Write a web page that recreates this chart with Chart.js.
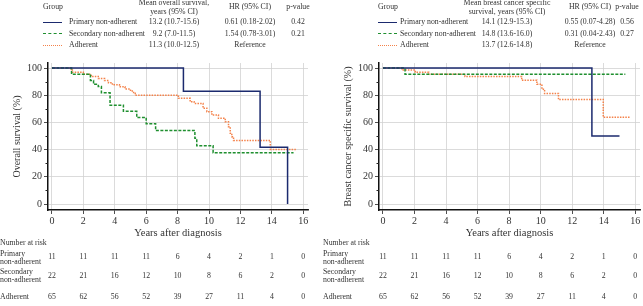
<!DOCTYPE html>
<html>
<head>
<meta charset="utf-8">
<script src="https://cdn.jsdelivr.net/npm/chart.js@4"></script>
<style>
body { margin: 0; background: #fff; font-family: "Liberation Serif", "DejaVu Serif", serif; color: #333; }
#page { position: relative; width: 643px; height: 306px; overflow: hidden; }
canvas { position: absolute; top: 0; }
.t { position: absolute; font-size: 7.8px; line-height: 9px; white-space: nowrap; }
.c { transform: translateX(-50%); text-align: center; }
.sw { position: absolute; width: 19px; height: 0; }
</style>
</head>
<body>
<div id="page">
  <canvas id="os" width="320" height="306" style="left:0"></canvas>
  <canvas id="bc" width="323" height="306" style="left:320px"></canvas>
</div>
<script>
const yearTicks = [0, 2, 4, 6, 8, 10, 12, 14, 16];
const groups = ['Primary non-adherent', 'Secondary non-adherent', 'Adherent'];
const riskLabels = [['Primary', 'non-adherent'], ['Secondary', 'non-adherent'], ['Adherent']];

// overall survival (left panel), step times in years and survival in %
const osPrimaryT = [0, 8.37, 13.25, 15.0];
const osPrimaryS = [100, 83.0, 41.7, 0];
const osSecondaryT = [0, 1.25, 2.45, 2.65, 2.95, 3.15, 3.7, 4.55, 5.4, 6.0, 6.6, 9.1, 9.22, 10.26, 15.38];
const osSecondaryS = [100, 95.5, 90.9, 88.0, 86.4, 81.8, 72.7, 68.2, 63.6, 59.1, 54.0, 48.3, 42.9, 37.7, 37.7];
const osAdherentT = [0, 1.2, 1.3, 2.0, 2.5, 2.95, 3.35, 3.6, 3.85, 4.3, 4.65, 5.0, 5.2, 5.3, 8.05, 8.8, 9.05, 9.62, 9.86, 10.18, 10.6, 11.03, 11.24, 11.35, 11.45, 11.56, 13.9, 15.6];
const osAdherentS = [100, 98.5, 96.9, 95.4, 93.8, 92.3, 90.8, 89.2, 87.7, 86.2, 84.6, 83.1, 81.5, 80.0, 77.7, 75.2, 74.0, 70.5, 67.9, 65.4, 63.0, 60.5, 56.8, 52.0, 49.5, 46.8, 40.0, 40.0];

// breast cancer specific survival (right panel)
const bcPrimaryT = [0, 13.25, 15.0];
const bcPrimaryS = [100, 50.0, 50.0];
const bcSecondaryT = [0, 1.4, 15.37];
const bcSecondaryS = [100, 95.5, 95.5];
const bcAdherentT = [0, 1.2, 2.05, 2.9, 5.2, 8.8, 9.76, 10.08, 10.25, 11.13, 13.97, 15.65];
const bcAdherentS = [100, 98.5, 96.9, 95.4, 93.8, 91.0, 88.1, 84.4, 81.3, 76.8, 63.8, 63.8];

const riskPrimary = [11, 11, 11, 11, 6, 4, 2, 1, 0];
const riskSecondary = [22, 21, 16, 12, 10, 8, 6, 2, 0];
const riskAdherent = [65, 62, 56, 52, 39, 27, 11, 4, 0];

const osMean = ['13.2 (10.7-15.6)', '9.2 (7.0-11.5)', '11.3 (10.0-12.5)'];
const osHR = ['0.61 (0.18-2.02)', '1.54 (0.78-3.01)', 'Reference'];
const osP = ['0.42', '0.21', ''];
const bcMean = ['14.1 (12.9-15.3)', '14.8 (13.6-16.0)', '13.7 (12.6-14.8)'];
const bcHR = ['0.55 (0.07-4.28)', '0.31 (0.04-2.43)', 'Reference'];
const bcP = ['0.56', '0.27', ''];

const colors = ['#1b2a6e', '#1f8f2f', '#f4824a'];
const swatchStyle = ['1.5px solid ' + colors[0], '1.5px dashed ' + colors[1], '1.5px dotted ' + colors[2]];
const FONT = '"Liberation Serif", "DejaVu Serif", serif';

const page = document.getElementById('page');
function text(str, x, y, centered) {
  const d = document.createElement('div');
  d.className = 't' + (centered ? ' c' : '');
  d.style.left = x + 'px';
  d.style.top = (y - 4.5) + 'px';
  d.textContent = str;
  page.appendChild(d);
}

// header table above each panel
function header(pos, meanHead, mean, hr, p) {
  text('Group', pos.group, 6);
  text(meanHead[0], pos.mean, 2, true);
  text(meanHead[1], pos.mean, 11, true);
  text('HR (95% CI)', pos.hr, 6, true);
  text('p-value', pos.p, 6, true);
  const rowY = [21.5, 33, 44.5];
  groups.forEach((g, i) => {
    const sw = document.createElement('div');
    sw.className = 'sw';
    sw.style.left = pos.group + 'px';
    sw.style.top = rowY[i] + 'px';
    sw.style.borderTop = swatchStyle[i];
    page.appendChild(sw);
    text(g, pos.label, rowY[i]);
    text(mean[i], pos.mean, rowY[i], true);
    text(hr[i], pos.hr, rowY[i], true);
    if (p[i]) text(p[i], pos.p, rowY[i], true);
  });
}
header({group: 43, label: 69, mean: 174, hr: 250, p: 298},
  ['Mean overall survival,', 'years (95% CI)'], osMean, osHR, osP);
header({group: 378, label: 400, mean: 507, hr: 590, p: 627},
  ['Mean breast cancer specific', 'survival, years (95% CI)'], bcMean, bcHR, bcP);

function pts(t, s) { return t.map((v, i) => ({x: v, y: s[i]})); }

const extras = {
  id: 'extras',
  afterDraw(chart, args, opts) {
    const ctx = chart.ctx;
    const xs = chart.scales.x, ys = chart.scales.y;
    const a = chart.chartArea;
    ctx.save();
    // minor ticks on the y axis
    ctx.strokeStyle = '#222';
    ctx.lineWidth = 1;
    for (let v = 10; v < 100; v += 20) {
      const y = Math.round(ys.getPixelForValue(v)) + 0.5;
      ctx.beginPath();
      ctx.moveTo(a.left - 2.5, y);
      ctx.lineTo(a.left, y);
      ctx.stroke();
    }
    // number at risk table
    ctx.fillStyle = '#333';
    ctx.font = '7.8px ' + FONT;
    ctx.textBaseline = 'middle';
    ctx.textAlign = 'left';
    ctx.fillText('Number at risk', opts.labelX, 243);
    const rows = [riskPrimary, riskSecondary, riskAdherent];
    const labelY = [[254, 262], [272, 280], [297]];
    const valueY = [257, 276, 297];
    riskLabels.forEach((lines, i) => {
      lines.forEach((l, j) => ctx.fillText(l, opts.labelX, labelY[i][j]));
    });
    ctx.textAlign = 'center';
    rows.forEach((r, i) => {
      r.forEach((n, k) => ctx.fillText(String(n), xs.getPixelForValue(yearTicks[k]), valueY[i]));
    });
    ctx.restore();
  }
};

function makeChart(id, series, yTitle, opt) {
  const dash = [[], [3, 1.5], [1.5, 1.2]];
  return new Chart(document.getElementById(id), {
    type: 'line',
    data: {
      datasets: series.map((s, i) => ({
        label: groups[i],
        data: pts(s[0], s[1]),
        borderColor: colors[i],
        borderDash: dash[i],
        borderWidth: 1.5,
        stepped: 'before',
        pointRadius: 0,
        fill: false
      }))
    },
    options: {
      responsive: false,
      animation: false,
      layout: { padding: { top: 63, right: opt.padRight, bottom: 66, left: 0 } },
      plugins: { legend: { display: false }, tooltip: { enabled: false }, extras: { labelX: opt.labelX } },
      scales: {
        x: {
          type: 'linear', min: -0.25, max: 16.3,
          ticks: { stepSize: 2, includeBounds: false, padding: 1, color: '#333', font: { family: FONT, size: 10 } },
          grid: { color: '#d2d2d2', lineWidth: 0.8, tickLength: 4, tickColor: '#222' },
          border: { color: '#111', width: 1.5 },
          title: { display: true, text: 'Years after diagnosis', color: '#333', font: { family: FONT, size: 10.5 }, padding: { top: 0, bottom: 0 } },
          afterFit: s => { s.height = 30; }
        },
        y: {
          min: -4.4, max: 103.7,
          ticks: { stepSize: 20, includeBounds: false, padding: 2, color: '#333', font: { family: FONT, size: 10 } },
          grid: { color: '#d2d2d2', lineWidth: 0.8, tickLength: 4, tickColor: '#222' },
          border: { color: '#111', width: 1.5 },
          title: { display: true, text: yTitle, color: '#333', font: { family: FONT, size: 10 }, padding: { top: opt.titleTop, bottom: 0 } },
          afterFit: s => { s.width = opt.yWidth; }
        }
      }
    },
    plugins: [extras]
  });
}

makeChart('os', [[osPrimaryT, osPrimaryS], [osSecondaryT, osSecondaryS], [osAdherentT, osAdherentS]],
  'Overall survival (%)', { padRight: 12, yWidth: 48, titleTop: 11, labelX: 0 });
makeChart('bc', [[bcPrimaryT, bcPrimaryS], [bcSecondaryT, bcSecondaryS], [bcAdherentT, bcAdherentS]],
  'Breast cancer specific survival (%)', { padRight: 3, yWidth: 59, titleTop: 22, labelX: 3 });
</script>
</body>
</html>
